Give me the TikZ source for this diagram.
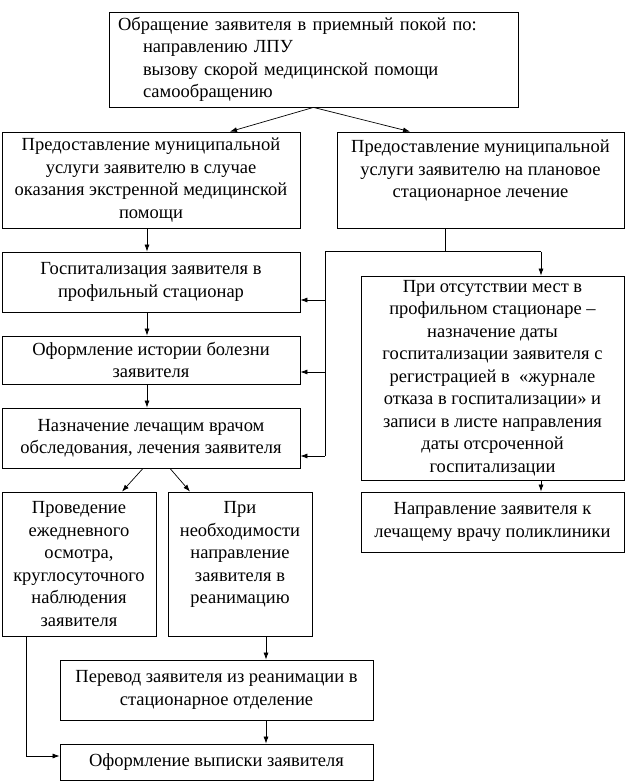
\documentclass[tikz,border=0pt]{standalone}
\usepackage{fontspec}
\setmainfont{Liberation Serif}
\usetikzlibrary{arrows.meta}
\begin{document}
\begin{tikzpicture}[x=1pt,y=-1pt,
  box/.style={draw, line width=0.8pt, inner sep=0pt, align=center,
    font=\fontsize{18.5}{22.5}\selectfont},
  arr/.style={line width=0.7pt, -{Latex[length=7pt,width=5pt]}},
  ln/.style={line width=0.7pt}]
\useasboundingbox[fill=white] (0,0) rectangle (626,781);

\node[box, minimum width=409pt, minimum height=95pt, text width=391pt, align=left] (top) at (313.5,59.5)
 {Обращение заявителя в приемный покой по:\\
  \hspace*{25pt}направлению ЛПУ\\
  \hspace*{25pt}вызову скорой медицинской помощи\\
  \hspace*{25pt}самообращению};

\node[box, minimum width=298pt, minimum height=96pt] (b1) at (151,180)
 {Предоставление муниципальной\\ услуги заявителю в случае\\ оказания экстренной медицинской\\ помощи};
\node[box, minimum width=287pt, minimum height=96pt] (b2) at (480.5,180)
 {Предоставление муниципальной\\ услуги заявителю на плановое\\ стационарное лечение\\ \mbox{}};

\node[box, minimum width=298pt, minimum height=60pt] (g) at (151,282)
 {Госпитализация заявителя в\\ профильный стационар};
\node[box, minimum width=298pt, minimum height=48pt] (o) at (151,360)
 {Оформление истории болезни\\ заявителя};
\node[box, minimum width=298pt, minimum height=60pt] (n) at (151,438)
 {Назначение лечащим врачом\\ обследования, лечения заявителя};

\node[box, minimum width=263pt, minimum height=204pt] (r) at (492.5,378)
 {При отсутствии мест в\\ профильном стационаре --\\ назначение даты\\ госпитализации заявителя с\\ регистрацией в \ «журнале\\ отказа в госпитализации» и\\ записи в листе направления\\ даты отсроченной\\ госпитализации};
\node[box, minimum width=263pt, minimum height=60pt] (np) at (492.5,522)
 {Направление заявителя к\\ лечащему врачу поликлиники};

\node[box, minimum width=154pt, minimum height=144pt] (p1) at (79,564)
 {Проведение\\ ежедневного\\ осмотра,\\ круглосуточного\\ наблюдения\\ заявителя};
\node[box, minimum width=144pt, minimum height=144pt] (p2) at (240,564)
 {При\\ необходимости\\ направление\\ заявителя в\\ реанимацию\\ \mbox{}};

\node[box, minimum width=313pt, minimum height=60pt] (t) at (216.5,690)
 {Перевод заявителя из реанимации в\\ стационарное отделение};
\node[box, minimum width=313pt, minimum height=36pt] (v) at (216.5,762)
 {Оформление выписки заявителя};

\coordinate (xa) at (230,0);
\coordinate (xb) at (410,0);
\coordinate (xl) at (147,0);
\coordinate (xj) at (445,0);
\coordinate (xv) at (325,0);
\coordinate (xr) at (541,0);
\coordinate (yg) at (0,300);
\coordinate (yo) at (0,372);
\coordinate (yn) at (0,456);
\coordinate (xn1) at (143,0);
\coordinate (xn2) at (170,0);
\coordinate (xp1) at (122,0);
\coordinate (xp2) at (190,0);
\coordinate (xp) at (266,0);
\coordinate (xq) at (26,0);
\coordinate (yv) at (0,756);

\draw[arr] (top.south) -- (b1.north -| xa);
\draw[arr] (top.south) -- (b2.north -| xb);
\draw[arr] (b1.south -| xl) -- (g.north -| xl);
\draw[arr] (g.south -| xl) -- (o.north -| xl);
\draw[arr] (o.south -| xl) -- (n.north -| xl);

\draw[ln] (b2.south -| xj) -- (g.north -| xj);
\draw[ln] (g.north -| xv) -- (g.north -| xr);
\draw[arr] (g.north -| xr) -- (r.north -| xr);
\draw[ln] (g.north -| xv) -- (yn -| xv);
\draw[arr] (yg -| xv) -- (yg -| g.east);
\draw[arr] (yo -| xv) -- (yo -| o.east);
\draw[arr] (yn -| xv) -- (yn -| n.east);
\draw[arr] (r.south -| xr) -- (np.north -| xr);

\draw[arr] (n.south -| xn1) -- (p1.north -| xp1);
\draw[arr] (n.south -| xn2) -- (p2.north -| xp2);
\draw[arr] (p2.south -| xp) -- (t.north -| xp);
\draw[arr] (t.south -| xp) -- (v.north -| xp);
\draw[arr] (p1.south -| xq) -- (yv -| xq) -- (yv -| v.west);
\end{tikzpicture}
\end{document}
